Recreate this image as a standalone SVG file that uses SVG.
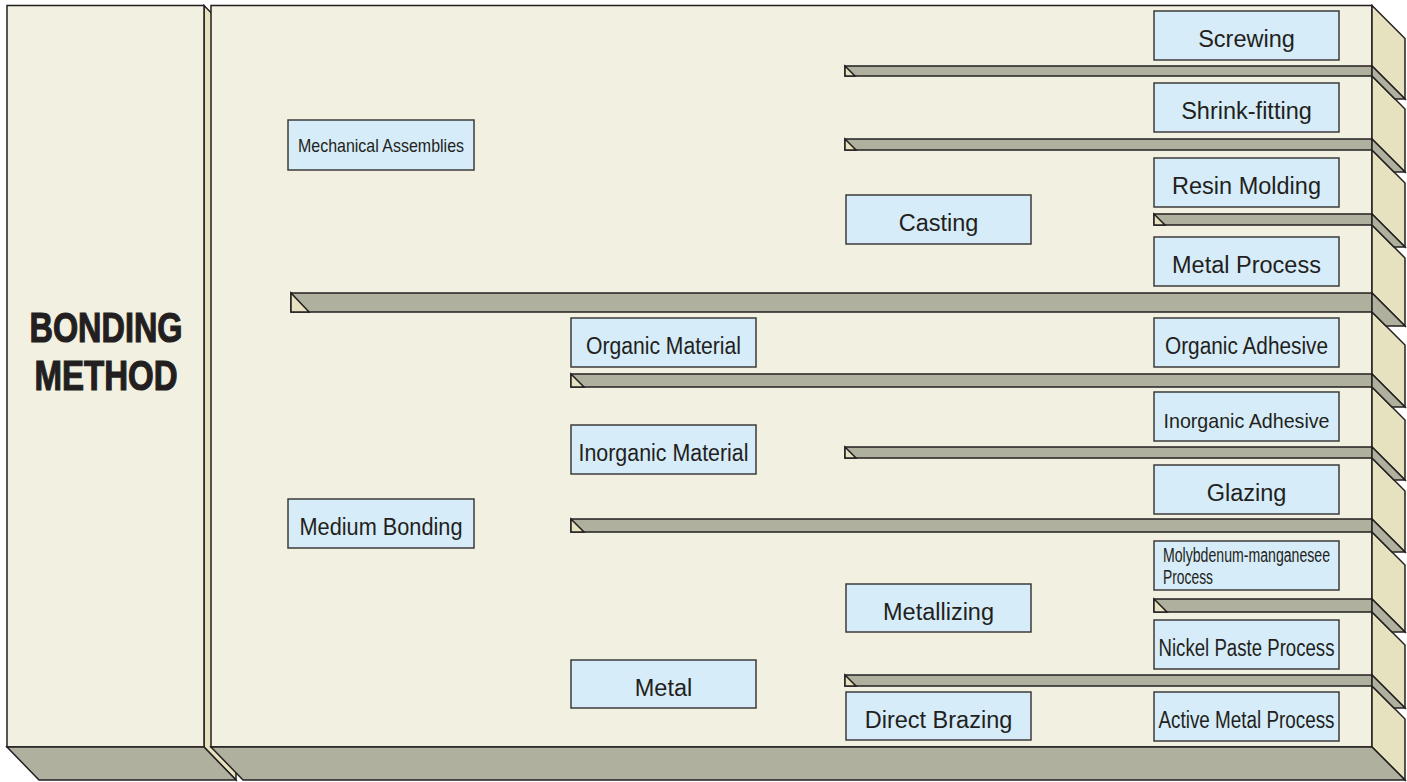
<svg xmlns="http://www.w3.org/2000/svg" width="1407" height="782" viewBox="0 0 1407 782">
<style>
.ln{stroke:#231f20;stroke-width:1.5;stroke-linejoin:miter}
.front{fill:#f2f0e0}
.side{fill:#e6e1bf}
.gray{fill:#b0b09e}
.box{fill:#d6ecf8;stroke:#3d3b3a;stroke-width:1.5}
.t{font-family:"Liberation Sans",Arial,sans-serif;fill:#231f20;text-anchor:middle}
.s{text-anchor:start}
.r{font-size:23.5px}
.c{font-size:23.5px}
.title{font-family:"Liberation Sans",Arial,sans-serif;font-weight:bold;font-size:42px;fill:#231f20;stroke:#231f20;stroke-width:1.2;text-anchor:middle}
</style>
<rect width="1407" height="782" fill="#ffffff"/>
<g id="left-block">
<polygon class="side ln" points="204,5.5 236,38 236,780 204,747"/>
<rect class="front ln" x="7" y="5.5" width="197" height="741.5"/>
<polygon class="gray ln" points="7,747 204,747 236,780 39,780"/>
<text class="title" x="106" y="342" textLength="153" lengthAdjust="spacingAndGlyphs">BONDING</text>
<text class="title" x="106" y="390" textLength="143" lengthAdjust="spacingAndGlyphs">METHOD</text>
</g>
<g id="main-panel">
<rect class="front ln" x="211" y="5.5" width="1161" height="741.5"/>
<polygon class="side ln" points="1372,5.5 1405,38.5 1405,99 1372,66"/>
<polygon class="side ln" points="1372,76 1405,109 1405,172 1372,139"/>
<polygon class="side ln" points="1372,150 1405,183 1405,247 1372,214"/>
<polygon class="side ln" points="1372,225 1405,258 1405,326 1372,293"/>
<polygon class="side ln" points="1372,312 1405,345 1405,407 1372,374"/>
<polygon class="side ln" points="1372,387 1405,420 1405,480 1372,447"/>
<polygon class="side ln" points="1372,458 1405,491 1405,552 1372,519"/>
<polygon class="side ln" points="1372,532 1405,565 1405,632 1372,599"/>
<polygon class="side ln" points="1372,612 1405,645 1405,708 1372,675"/>
<polygon class="side ln" points="1372,686 1405,719 1405,780 1372,747"/>
<polygon class="gray ln" points="211,747 1372,747 1405,780 243,780"/>
</g>
<g id="connectors">
<g id="bar1"><rect class="gray ln" x="845" y="66" width="527" height="10"/><polygon class="side ln" points="845,66 845,76 855,76"/><polygon class="gray ln" points="1372,66 1405,99 1395,99 1372,76"/></g>
<g id="bar2"><rect class="gray ln" x="845" y="139" width="527" height="11"/><polygon class="side ln" points="845,139 845,150 856,150"/><polygon class="gray ln" points="1372,139 1405,172 1394,172 1372,150"/></g>
<g id="bar3"><rect class="gray ln" x="1154" y="214" width="218" height="11"/><polygon class="side ln" points="1154,214 1154,225 1165,225"/><polygon class="gray ln" points="1372,214 1405,247 1394,247 1372,225"/></g>
<g id="bar4"><rect class="gray ln" x="291" y="293" width="1081" height="19"/><polygon class="side ln" points="291,293 291,312 309,312"/><polygon class="gray ln" points="1372,293 1405,326 1386,326 1372,312"/></g>
<g id="bar5"><rect class="gray ln" x="571" y="374" width="801" height="13"/><polygon class="side ln" points="571,374 571,387 584,387"/><polygon class="gray ln" points="1372,374 1405,407 1392,407 1372,387"/></g>
<g id="bar6"><rect class="gray ln" x="845" y="447" width="527" height="11"/><polygon class="side ln" points="845,447 845,458 856,458"/><polygon class="gray ln" points="1372,447 1405,480 1394,480 1372,458"/></g>
<g id="bar7"><rect class="gray ln" x="571" y="519" width="801" height="13"/><polygon class="side ln" points="571,519 571,532 584,532"/><polygon class="gray ln" points="1372,519 1405,552 1392,552 1372,532"/></g>
<g id="bar8"><rect class="gray ln" x="1154" y="599" width="218" height="13"/><polygon class="side ln" points="1154,599 1154,612 1167,612"/><polygon class="gray ln" points="1372,599 1405,632 1392,632 1372,612"/></g>
<g id="bar9"><rect class="gray ln" x="845" y="675" width="527" height="11"/><polygon class="side ln" points="845,675 845,686 856,686"/><polygon class="gray ln" points="1372,675 1405,708 1394,708 1372,686"/></g>
</g>
<g id="n-mechanical"><rect class="box" x="288" y="120" width="186" height="50"/><text class="t" x="381" y="152" font-size="19" textLength="166" lengthAdjust="spacingAndGlyphs">Mechanical Assemblies</text></g>
<g id="n-medium"><rect class="box" x="288" y="499" width="186" height="49"/><text class="t c" x="381" y="535" textLength="163" lengthAdjust="spacingAndGlyphs">Medium Bonding</text></g>
<g id="n-organic-material"><rect class="box" x="571" y="318" width="185" height="49"/><text class="t c" x="663.5" y="354" textLength="155" lengthAdjust="spacingAndGlyphs">Organic Material</text></g>
<g id="n-inorganic-material"><rect class="box" x="571" y="425" width="185" height="49"/><text class="t c" x="663.5" y="461" textLength="170" lengthAdjust="spacingAndGlyphs">Inorganic Material</text></g>
<g id="n-metal"><rect class="box" x="571" y="660" width="185" height="48"/><text class="t r" x="663.5" y="696">Metal</text></g>
<g id="n-casting"><rect class="box" x="846" y="195" width="185" height="49"/><text class="t r" x="938.5" y="231">Casting</text></g>
<g id="n-metallizing"><rect class="box" x="846" y="584" width="185" height="48"/><text class="t r" x="938.5" y="620">Metallizing</text></g>
<g id="n-direct-brazing"><rect class="box" x="846" y="692" width="185" height="48"/><text class="t r" x="938.5" y="728">Direct Brazing</text></g>
<g id="n-screwing"><rect class="box" x="1154" y="11" width="185" height="49"/><text class="t r" x="1246.5" y="47">Screwing</text></g>
<g id="n-shrink"><rect class="box" x="1154" y="83" width="185" height="49"/><text class="t r" x="1246.5" y="119">Shrink-fitting</text></g>
<g id="n-resin"><rect class="box" x="1154" y="158" width="185" height="49"/><text class="t r" x="1246.5" y="194">Resin Molding</text></g>
<g id="n-metal-process"><rect class="box" x="1154" y="237" width="185" height="49"/><text class="t r" x="1246.5" y="273">Metal Process</text></g>
<g id="n-organic-adhesive"><rect class="box" x="1154" y="318" width="185" height="49"/><text class="t c" x="1246.5" y="354" textLength="163" lengthAdjust="spacingAndGlyphs">Organic Adhesive</text></g>
<g id="n-inorganic-adhesive"><rect class="box" x="1154" y="392" width="185" height="49"/><text class="t" x="1246.5" y="428" font-size="21" textLength="166" lengthAdjust="spacingAndGlyphs">Inorganic Adhesive</text></g>
<g id="n-glazing"><rect class="box" x="1154" y="465" width="185" height="49"/><text class="t r" x="1246.5" y="501">Glazing</text></g>
<g id="n-molybdenum"><rect class="box" x="1154" y="541" width="185" height="49"/><text class="t s" x="1163" y="562" font-size="19.5" textLength="167" lengthAdjust="spacingAndGlyphs">Molybdenum-manganesee</text><text class="t s" x="1163" y="584" font-size="19.5" textLength="50" lengthAdjust="spacingAndGlyphs">Process</text></g>
<g id="n-nickel"><rect class="box" x="1154" y="620" width="185" height="49"/><text class="t c" x="1246.5" y="656" textLength="176" lengthAdjust="spacingAndGlyphs">Nickel Paste Process</text></g>
<g id="n-active"><rect class="box" x="1154" y="692" width="185" height="49"/><text class="t c" x="1246.5" y="728" textLength="176" lengthAdjust="spacingAndGlyphs">Active Metal Process</text></g>
</svg>
